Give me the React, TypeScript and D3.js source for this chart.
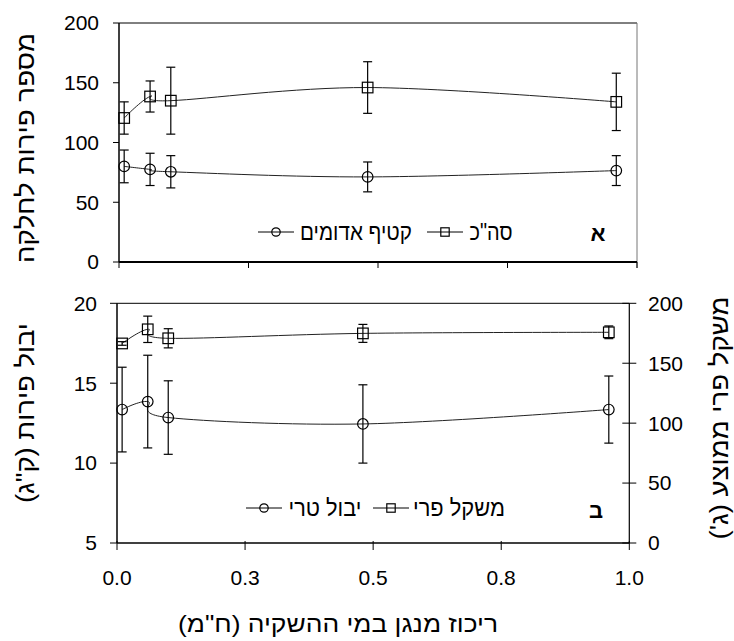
import * as d3 from 'd3';

// manganese concentration in irrigation water (ppm)
const manganese = [0.01, 0.06, 0.1, 0.48, 0.96];

// panel A - fruits per plot
const totalFruit = [120.5, 138.5, 135, 146, 134];
const totalFruitErr = [13.5, 13, 28, 21.6, 24];
const redHarvest = [80, 77.5, 75.5, 71.2, 76.5];
const redHarvestErr = [13.7, 13.5, 13.5, 12.5, 12.5];

// panel B - fresh yield (kg) on left, mean fruit weight (g) on right
const freshYield = [13.35, 13.85, 12.85, 12.45, 13.35];
const freshYieldErr = [2.65, 2.9, 2.3, 2.45, 2.1];
const fruitWeight = [166.5, 178.3, 170.8, 174.9, 175.8];
const fruitWeightErr = [1.5, 11, 8, 7.5, 5.3];

const xTicks = [0, 0.25, 0.5, 0.75, 1];
const xTickLabels = ['0.0', '0.3', '0.5', '0.8', '1.0'];
const topYTicks = [0, 50, 100, 150, 200];
const botLeftTicks = [5, 10, 15, 20];
const botRightTicks = [0, 50, 100, 150, 200];

const FONT = 'Liberation Sans, Arial, sans-serif';

type Pt = { x: number; y: number; e: number };

const zip = (xs: number[], ys: number[], es: number[]): Pt[] => xs.map((x, i) => ({ x, y: ys[i], e: es[i] }));

const Marker = ({ kind, cx, cy, r }: { kind: string; cx: number; cy: number; r: number }) =>
  kind === 'circle' ? (
    <circle cx={cx} cy={cy} r={r} fill="none" stroke="#000" strokeWidth={1.2} />
  ) : (
    <rect x={cx - r} y={cy - r} width={r * 2} height={r * 2} fill="none" stroke="#000" strokeWidth={1.2} />
  );

const Series = ({
  pts,
  x,
  y,
  kind,
}: {
  pts: Pt[];
  x: d3.ScaleLinear<number, number>;
  y: d3.ScaleLinear<number, number>;
  kind: string;
}) => {
  // excel-style smoothed line
  const line = d3
    .line<Pt>()
    .x((d) => x(d.x))
    .y((d) => y(d.y))
    .curve(d3.curveCatmullRom.alpha(0));
  return (
    <g>
      <path d={line(pts) || ''} fill="none" stroke="#222" strokeWidth={1} />
      {pts.map((d, i) => {
        const cx = x(d.x);
        return (
          <g key={i} stroke="#000" strokeWidth={1.2}>
            <line x1={cx} x2={cx} y1={y(d.y + d.e)} y2={y(d.y - d.e)} />
            <line x1={cx - 4.5} x2={cx + 4.5} y1={y(d.y + d.e)} y2={y(d.y + d.e)} />
            <line x1={cx - 4.5} x2={cx + 4.5} y1={y(d.y - d.e)} y2={y(d.y - d.e)} />
          </g>
        );
      })}
      {pts.map((d, i) => (
        <Marker key={i} kind={kind} cx={x(d.x)} cy={y(d.y)} r={5.3} />
      ))}
    </g>
  );
};

const Hebrew = ({
  x,
  y,
  len,
  size,
  rotate = 0,
  children,
}: {
  x: number;
  y: number;
  len: number;
  size: number;
  rotate?: number;
  children: string;
}) => (
  <text
    transform={`translate(${x},${y}) rotate(${rotate})`}
    textAnchor="middle"
    dy="0.35em"
    fontSize={size}
    direction="rtl"
    textLength={len}
    lengthAdjust="spacingAndGlyphs"
  >
    {children}
  </text>
);

const LegendItem = ({
  kind,
  x,
  y,
  label,
  tx,
  len,
}: {
  kind: string;
  x: number;
  y: number;
  label: string;
  tx: number;
  len: number;
}) => (
  <g>
    <line x1={x - 18} x2={x + 18} y1={y} y2={y} stroke="#000" strokeWidth={1} />
    <Marker kind={kind} cx={x} cy={y} r={4.2} />
    <Hebrew x={tx} y={y} len={len} size={23}>
      {label}
    </Hebrew>
  </g>
);

const App = () => {
  // top panel
  const xTop = d3.scaleLinear().domain([0, 1]).range([119, 637]);
  const yTop = d3.scaleLinear().domain([0, 200]).range([262, 23]);
  // bottom panel
  const xBot = d3.scaleLinear().domain([0, 1]).range([117, 629.3]);
  const yLeft = d3.scaleLinear().domain([5, 20]).range([543, 303.3]);
  const yRight = d3.scaleLinear().domain([0, 200]).range([543, 303.3]);

  return (
    <svg
      width={734}
      height={641}
      style={{ position: 'absolute', left: 0, top: 0, background: '#fff' }}
      fontFamily={FONT}
    >
      {/* ---------- panel A ---------- */}
      <line x1={xTop(0)} x2={xTop(1)} y1={yTop(200)} y2={yTop(200)} stroke="#000" />
      <line x1={xTop(1)} x2={xTop(1)} y1={yTop(200)} y2={yTop(0) + 6} stroke="#777" />
      <line x1={xTop(0)} x2={xTop(0)} y1={yTop(200)} y2={yTop(0)} stroke="#000" strokeWidth={1.5} />
      <line x1={xTop(0)} x2={xTop(1)} y1={yTop(0)} y2={yTop(0)} stroke="#000" strokeWidth={2} />
      {xTicks.map((t) => (
        <line key={t} x1={xTop(t)} x2={xTop(t)} y1={yTop(0)} y2={yTop(0) + 6} stroke="#000" />
      ))}
      {topYTicks.map((t) => (
        <g key={t}>
          <line x1={xTop(0) - 6} x2={xTop(0)} y1={yTop(t)} y2={yTop(t)} stroke="#000" />
          <text x={99} y={yTop(t)} dy="0.35em" textAnchor="end" fontSize={21}>
            {t}
          </text>
        </g>
      ))}
      <Hebrew x={25} y={148} len={230} size={25} rotate={-90}>
        מספר פירות לחלקה
      </Hebrew>
      <Series pts={zip(manganese, totalFruit, totalFruitErr)} x={xTop} y={yTop} kind="square" />
      <Series pts={zip(manganese, redHarvest, redHarvestErr)} x={xTop} y={yTop} kind="circle" />
      <LegendItem kind="circle" x={276} y={232} label="קטיף אדומים" tx={356} len={112} />
      <LegendItem kind="square" x={445} y={232} label={'סה"כ'} tx={491} len={43} />
      <text x={598} y={233} dy="0.35em" textAnchor="middle" fontSize={22} fontWeight="bold">
        א
      </text>

      {/* ---------- panel B ---------- */}
      <line x1={xBot(0)} x2={xBot(1)} y1={yLeft(20)} y2={yLeft(20)} stroke="#000" />
      <line x1={xBot(0)} x2={xBot(0)} y1={yLeft(20)} y2={yLeft(5)} stroke="#000" strokeWidth={1.5} />
      <line x1={xBot(1)} x2={xBot(1)} y1={yLeft(20)} y2={yLeft(5)} stroke="#000" strokeWidth={1.2} />
      <line x1={xBot(0)} x2={xBot(1)} y1={yLeft(5)} y2={yLeft(5)} stroke="#000" strokeWidth={1.5} />
      {xTicks.map((t, i) => (
        <g key={t}>
          <line x1={xBot(t)} x2={xBot(t)} y1={yLeft(5) - 2} y2={yLeft(5) + 7} stroke="#000" />
          <text x={xBot(t)} y={578} dy="0.35em" textAnchor="middle" fontSize={21}>
            {xTickLabels[i]}
          </text>
        </g>
      ))}
      {botLeftTicks.map((t) => (
        <g key={t}>
          <line x1={xBot(0) - 7} x2={xBot(0)} y1={yLeft(t)} y2={yLeft(t)} stroke="#000" />
          <text x={97} y={yLeft(t)} dy="0.35em" textAnchor="end" fontSize={21}>
            {t}
          </text>
        </g>
      ))}
      {botRightTicks.map((t) => (
        <g key={t}>
          <line x1={xBot(1) - 7} x2={xBot(1) + 7} y1={yRight(t)} y2={yRight(t)} stroke="#000" />
          <text x={648} y={yRight(t)} dy="0.35em" textAnchor="start" fontSize={21}>
            {t}
          </text>
        </g>
      ))}
      <Hebrew x={25} y={413} len={180} size={25} rotate={-90}>
        יבול פירות (ק"ג)
      </Hebrew>
      <Hebrew x={719} y={418} len={243} size={25} rotate={-90}>
        משקל פרי ממוצע (ג')
      </Hebrew>
      <Series pts={zip(manganese, fruitWeight, fruitWeightErr)} x={xBot} y={yRight} kind="square" />
      <Series pts={zip(manganese, freshYield, freshYieldErr)} x={xBot} y={yLeft} kind="circle" />
      <LegendItem kind="circle" x={264} y={508} label="יבול טרי" tx={325} len={73} />
      <LegendItem kind="square" x={391} y={508} label="משקל פרי" tx={459} len={92} />
      <text x={596} y={510} dy="0.35em" textAnchor="middle" fontSize={22} fontWeight="bold">
        ב
      </text>

      <Hebrew x={338} y={624} len={320} size={24}>
        ריכוז מנגן במי ההשקיה (ח"מ)
      </Hebrew>
    </svg>
  );
};

export default App;
